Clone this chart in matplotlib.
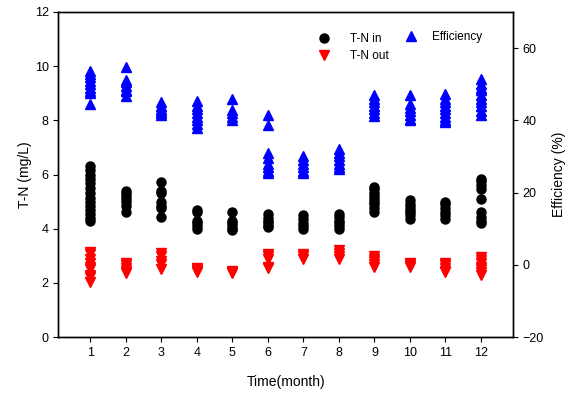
import matplotlib.pyplot as plt

plt.rcParams['font.family'] = ['Liberation Sans', 'DejaVu Sans']

months = [1, 2, 3, 4, 5, 6, 7, 8, 9, 10, 11, 12]

# T-N in (mg/L), one list per month
tn_in = [
    [6.3, 6.15, 6.0, 5.85, 5.7, 5.5, 5.3, 5.15, 5.0, 4.85, 4.7, 4.55, 4.4, 4.3],
    [5.4, 5.3, 5.2, 5.1, 5.0, 4.85, 4.6],
    [5.73, 5.4, 5.3, 5.0, 4.85, 4.75, 4.45],
    [4.7, 4.6, 4.3, 4.2, 4.1, 4.0],
    [4.6, 4.3, 4.2, 4.1, 4.0, 3.95],
    [4.55, 4.4, 4.3, 4.2, 4.1, 4.05],
    [4.5, 4.35, 4.2, 4.1, 4.0],
    [4.55, 4.45, 4.3, 4.2, 4.1, 4.0],
    [5.55, 5.45, 5.3, 5.2, 5.1, 5.0, 4.9, 4.75, 4.6],
    [5.05, 4.9, 4.8, 4.7, 4.6, 4.5, 4.35],
    [5.0, 4.9, 4.75, 4.6, 4.5, 4.35],
    [5.85, 5.75, 5.6, 5.45, 5.1, 4.6, 4.45, 4.3, 4.2],
]

# T-N out (mg/L)
tn_out = [
    [3.15, 3.05, 2.9, 2.75, 2.6, 2.5, 2.3, 2.2, 2.05],
    [2.75, 2.65, 2.55, 2.45, 2.35],
    [3.1, 3.0, 2.8, 2.7, 2.5],
    [2.55, 2.5, 2.45, 2.4],
    [2.45, 2.4, 2.35],
    [3.05, 3.0, 2.9, 2.6, 2.55],
    [3.05, 3.0, 2.9],
    [3.2, 3.1, 3.0, 2.9],
    [3.0, 2.9, 2.8, 2.7, 2.6],
    [2.75, 2.7, 2.65, 2.6],
    [2.75, 2.65, 2.55, 2.45, 2.4],
    [2.95, 2.85, 2.75, 2.6, 2.5, 2.4, 2.3],
]

# Efficiency (%)
efficiency = [
    [53.7, 52.8, 52.0, 51.0, 50.0, 49.0, 48.0, 47.5, 44.5],
    [54.8, 51.3, 50.5, 49.5, 48.5, 48.0, 46.8],
    [45.0, 44.0, 43.0, 42.5, 42.0, 41.5],
    [45.3, 44.0, 43.0, 42.0, 41.0, 40.0, 39.0, 38.0],
    [46.0, 42.8, 42.0, 41.0, 40.2],
    [41.5, 38.7, 31.0, 29.5, 28.0, 27.0, 26.0, 25.5],
    [30.0, 29.0, 28.0, 27.0, 26.0, 25.5],
    [32.0, 31.0, 30.0, 29.0, 28.0, 27.0, 26.5],
    [47.0, 46.0, 45.0, 44.0, 43.0, 42.0, 41.3],
    [47.0, 44.5, 43.5, 42.5, 41.5, 40.5, 40.2],
    [47.3, 46.0, 45.0, 44.0, 43.0, 42.0, 41.0, 40.0, 39.5],
    [51.5, 50.0, 49.0, 48.5, 47.0, 46.0, 45.0, 44.0, 42.5, 41.5],
]

def flatten(groups):
    xs, ys = [], []
    for m, vals in zip(months, groups):
        xs += [m] * len(vals)
        ys += vals
    return xs, ys

fig = plt.figure(figsize=(5.73, 3.98), dpi=100)
ax = fig.add_axes([0.102, 0.153, 0.793, 0.817])
ax2 = ax.twinx()

x, y = flatten(tn_in)
l1, = ax.plot(x, y, 'o', color='black', markersize=6.5, label='T-N in')
x, y = flatten(tn_out)
l2, = ax.plot(x, y, 'v', color='red', markersize=7, label='T-N out')
x, y = flatten(efficiency)
l3, = ax2.plot(x, y, '^', color='blue', markersize=7, label='Efficiency')

ax.set_xlim(0.1, 12.9)
ax.set_ylim(0, 12)
ax2.set_ylim(-20, 70)
ax.set_xticks(months)
ax.set_yticks([0, 2, 4, 6, 8, 10, 12])
ax2.set_yticks([-20, 0, 20, 40, 60])

for a in (ax, ax2):
    a.tick_params(direction='out', length=3.5, width=0.8, labelsize=9)
    for s in a.spines.values():
        s.set_linewidth(1.0)

ax.set_xlabel('Time(month)', fontsize=10, labelpad=12)
ax.set_ylabel('T-N (mg/L)', fontsize=10, labelpad=2)
ax2.set_ylabel('Efficiency (%)', fontsize=10, labelpad=6)

# two separate legends, one per axis
ax.legend(handles=[l1, l2], loc='upper left', bbox_to_anchor=(0.548, 0.95),
          frameon=False, fontsize=8.5, handletextpad=1.2, labelspacing=0.45,
          borderaxespad=0)
ax2.legend(handles=[l3], loc='upper left', bbox_to_anchor=(0.739, 0.955),
           frameon=False, fontsize=8.5, handletextpad=0.8, borderaxespad=0)

plt.savefig('out.png', dpi=100)
